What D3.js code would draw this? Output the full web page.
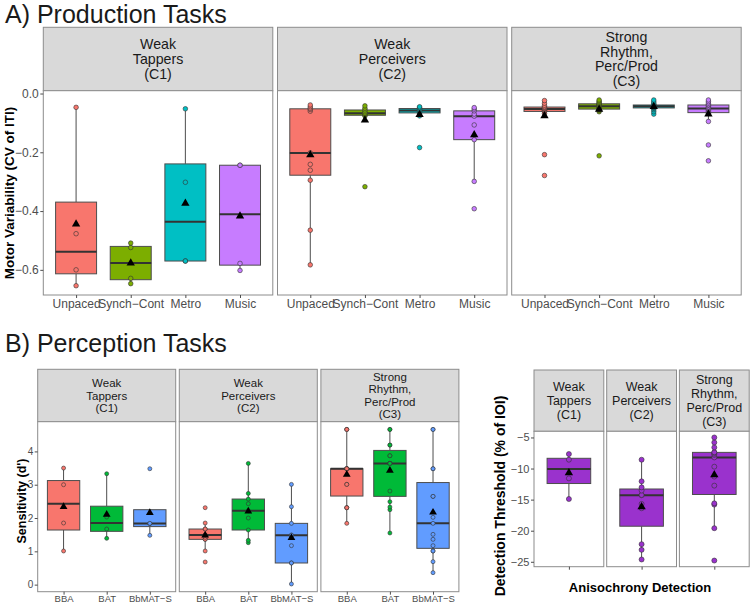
<!DOCTYPE html>
<html><head><meta charset="utf-8">
<script src="https://cdn.jsdelivr.net/npm/d3@7"></script>
<style>body{margin:0;background:#fff} svg{display:block} text{font-family:"Liberation Sans",Arial,sans-serif}</style>
</head><body><svg id="chart" width="750" height="605"></svg>
<script>
// ---------- data ----------
const prodTasks = ["Unpaced", "Synch\u2212Cont", "Metro", "Music"];
const percTasks = ["BBA", "BAT", "BbMAT\u2212S"];
const anisoTasks = ["Anisochrony"];
const clusterStrips = [["Weak", "Tappers", "(C1)"], ["Weak", "Perceivers", "(C2)"], ["Strong", "Rhythm,", "Perc/Prod", "(C3)"]];
const prodTicks = [0, -0.2, -0.4, -0.6];
const percTicks = [0, 1, 2, 3, 4];
const anisoTicks = [-5, -10, -15, -20, -25];
const prodColors = ["#F8766D", "#7CAE00", "#00BFC4", "#C77CFF"];
const percColors = ["#F8766D", "#00BA38", "#619CFF"];
const anisoColors = ["#9A32CD"];

// Production: motor variability, per cluster, one array per task
const prodC1 = [
  [-0.047, -0.477, -0.600, -0.654],
  [-0.509, -0.524, -0.629, -0.647],
  [-0.052, -0.302, -0.570, -0.570],
  [-0.244, -0.244, -0.578, -0.602]
];
const prodC2 = [
  [-0.039, -0.045, -0.050, -0.054, -0.060, -0.202, -0.241, -0.261, -0.295, -0.465, -0.583],
  [-0.042, -0.050, -0.056, -0.062, -0.067, -0.070, -0.074, -0.076, -0.317],
  [-0.045, -0.048, -0.051, -0.055, -0.058, -0.062, -0.066, -0.076, -0.184],
  [-0.048, -0.053, -0.059, -0.070, -0.077, -0.107, -0.157, -0.299, -0.392]
];
const prodC3 = [
  [-0.024, -0.033, -0.040, -0.045, -0.047, -0.050, -0.052, -0.053, -0.056, -0.058, -0.060, -0.062, -0.068, -0.208, -0.279],
  [-0.022, -0.026, -0.030, -0.034, -0.036, -0.039, -0.041, -0.043, -0.047, -0.050, -0.052, -0.054, -0.058, -0.062, -0.212],
  [-0.022, -0.028, -0.033, -0.038, -0.040, -0.041, -0.042, -0.043, -0.044, -0.046, -0.048, -0.050, -0.055, -0.062, -0.070],
  [-0.022, -0.028, -0.033, -0.038, -0.040, -0.045, -0.048, -0.051, -0.054, -0.058, -0.062, -0.068, -0.095, -0.175, -0.229]
];
// Perception: sensitivity d'
const percC1 = [
  [1.01, 1.85, 3.00, 3.50],
  [1.39, 1.67, 2.03, 3.33],
  [1.48, 1.83, 1.84, 3.48]
];
const percC2 = [
  [0.68, 1.01, 1.36, 1.36, 1.42, 1.49, 1.49, 1.67, 1.67, 1.85, 2.31],
  [1.26, 1.33, 1.64, 2.00, 2.22, 2.43, 2.57, 2.74, 3.64],
  [0.02, 0.65, 0.65, 1.17, 1.48, 1.49, 1.84, 2.34, 3.01]
];
const percC3 = [
  [1.84, 2.31, 2.31, 2.31, 3.01, 3.01, 3.48, 3.48, 3.48, 3.48, 3.48, 3.48, 4.66, 4.66, 4.66],
  [1.55, 2.25, 2.33, 2.49, 2.81, 3.64, 3.64, 3.64, 3.64, 3.87, 3.87, 4.19, 4.19, 4.66, 4.66],
  [0.36, 0.69, 1.01, 1.01, 1.17, 1.36, 1.51, 1.84, 2.02, 2.65, 2.65, 3.48, 3.48, 4.66, 4.66]
];
// Anisochrony detection threshold (% of IOI)
const anisoC1 = [-7.67, -8.58, -11.58, -14.9];
const anisoC2 = [-8.58, -12.06, -13.03, -13.55, -14.25, -14.3, -15.69, -16.39, -22.17, -23.08, -24.63];
const anisoC3 = [-5.0, -5.8, -6.6, -7.4, -7.4, -7.6, -7.8, -8.21, -9.7, -11.3, -12.75, -15.6, -15.8, -19.6, -24.8];

// ---------- drawing ----------
const svg = d3.select("#chart");
const BORDER = "#8c8c8c";

function facetBox(o) {
  const all = o.groups.flat(2);
  const ext = d3.extent(all);
  const pad = (ext[1] - ext[0]) * 0.05;
  const y = d3.scaleLinear().domain([ext[0] - pad, ext[1] + pad]).range([o.plotBottom, o.stripBottom]);
  const tri = d3.symbol().type(d3.symbolTriangle).size(o.triSize);

  o.groups.forEach((panel, pi) => {
    const x0 = o.left + pi * (o.width + o.gap), x1 = x0 + o.width;
    const g = svg.append("g");
    g.append("rect").attr("x", x0).attr("y", o.stripTop).attr("width", o.width)
      .attr("height", o.stripBottom - o.stripTop).attr("fill", "#d9d9d9").attr("stroke", BORDER).attr("stroke-width", 1);
    const lines = clusterStrips[pi];
    const sc = (o.stripTop + o.stripBottom) / 2;
    lines.forEach((t, li) => {
      g.append("text").attr("x", (x0 + x1) / 2)
        .attr("y", sc + (li - (lines.length - 1) / 2) * o.stripLine)
        .attr("dy", "0.35em").attr("text-anchor", "middle")
        .attr("font-size", o.stripFont).attr("fill", "#1a1a1a").text(t);
    });
    g.append("rect").attr("x", x0).attr("y", o.stripBottom).attr("width", o.width)
      .attr("height", o.plotBottom - o.stripBottom).attr("fill", "#fff");

    const x = d3.scalePoint().domain(o.cats).range([x0, x1]).padding(0.6);
    const bw = x.step() * 0.75;
    panel.forEach((vals, ci) => {
      const s = vals.slice().sort(d3.ascending);
      const q1 = d3.quantileSorted(s, 0.25), med = d3.quantileSorted(s, 0.5), q3 = d3.quantileSorted(s, 0.75);
      const iqr = q3 - q1;
      const lo = d3.min(s.filter(v => v >= q1 - 1.5 * iqr));
      const hi = d3.max(s.filter(v => v <= q3 + 1.5 * iqr));
      const cx = x(o.cats[ci]);
      const col = o.colors[ci];
      g.append("line").attr("x1", cx).attr("x2", cx).attr("y1", y(hi)).attr("y2", y(q3))
        .attr("stroke", "#4d4d4d").attr("stroke-width", 1);
      g.append("line").attr("x1", cx).attr("x2", cx).attr("y1", y(q1)).attr("y2", y(lo))
        .attr("stroke", "#4d4d4d").attr("stroke-width", 1);
      g.append("rect").attr("x", cx - bw / 2).attr("width", bw).attr("y", y(q3))
        .attr("height", Math.max(0.5, y(q1) - y(q3))).attr("fill", col)
        .attr("stroke", "#4d4d4d").attr("stroke-width", 1);
      g.append("line").attr("x1", cx - bw / 2).attr("x2", cx + bw / 2).attr("y1", y(med)).attr("y2", y(med))
        .attr("stroke", "#333").attr("stroke-width", 2);
      g.selectAll(null).data(s).enter().append("circle")
        .attr("cx", cx).attr("cy", d => y(d)).attr("r", o.pointR)
        .attr("fill", col).attr("stroke", "#333").attr("stroke-width", 0.6);
      g.append("path").attr("d", tri).attr("transform", `translate(${cx},${y(d3.mean(s))})`).attr("fill", "#000");
    });
    g.append("rect").attr("x", x0).attr("y", o.stripBottom).attr("width", o.width)
      .attr("height", o.plotBottom - o.stripBottom).attr("fill", "none").attr("stroke", BORDER).attr("stroke-width", 1);

    const xa = g.append("g").attr("transform", `translate(0,${o.plotBottom})`)
      .call(d3.axisBottom(x).tickSize(3).tickPadding(o.xPad).tickFormat(o.showX ? (d => d) : (() => "")));
    xa.select(".domain").remove();
    xa.selectAll("line").attr("stroke", "#4d4d4d");
    xa.selectAll("text").attr("font-size", o.xFont).attr("fill", "#4d4d4d").attr("font-family", "Liberation Sans, Arial, sans-serif");
  });

  const ya = svg.append("g").attr("transform", `translate(${o.left},0)`)
    .call(d3.axisLeft(y).tickValues(o.ticks).tickFormat(o.fmt).tickSize(3).tickPadding(o.yPad));
  ya.select(".domain").remove();
  ya.selectAll("line").attr("stroke", "#4d4d4d");
  ya.selectAll("text").attr("font-size", o.yFont).attr("fill", "#4d4d4d").attr("font-family", "Liberation Sans, Arial, sans-serif");

  svg.append("text").attr("transform", `translate(${o.yTitleX},${o.yTitleY}) rotate(-90)`)
    .attr("text-anchor", "middle").attr("font-weight", "bold").attr("font-size", o.yTitleFont)
    .attr("fill", "#000").text(o.yTitle);
}

// section titles
svg.append("text").attr("x", 5).attr("y", 23.2).attr("font-family", "Roboto, Noto Sans, sans-serif")
  .attr("font-size", 25).attr("fill", "#1a1a1a").text("A) Production Tasks");
svg.append("text").attr("x", 5).attr("y", 352).attr("font-family", "Roboto, Noto Sans, sans-serif")
  .attr("font-size", 25).attr("fill", "#1a1a1a").text("B) Perception Tasks");

facetBox({
  groups: [prodC1, prodC2, prodC3], cats: prodTasks, colors: prodColors,
  left: 43.3, width: 229.5, gap: 4.7, stripTop: 27.3, stripBottom: 90.7, plotBottom: 295,
  stripFont: 14.2, stripLine: 14.6, xFont: 12, xPad: 1.5, showX: true,
  ticks: prodTicks, fmt: d3.format(".1f"), yFont: 12, yPad: 1.5,
  yTitle: "Motor Variability (CV of ITI)", yTitleX: 14, yTitleY: 193, yTitleFont: 13.5,
  pointR: 2.3, triSize: 30
});

facetBox({
  groups: [percC1, percC2, percC3], cats: percTasks, colors: percColors,
  left: 37.7, width: 138, gap: 3.6, stripTop: 369.3, stripBottom: 421.7, plotBottom: 591.7,
  stripFont: 11.5, stripLine: 12.6, xFont: 9.5, xPad: 1, showX: true,
  ticks: percTicks, fmt: d3.format("d"), yFont: 10, yPad: 1.5,
  yTitle: "Sensitivity (d')", yTitleX: 25.5, yTitleY: 501, yTitleFont: 12.5,
  pointR: 2, triSize: 26
});

facetBox({
  groups: [[anisoC1], [anisoC2], [anisoC3]], cats: anisoTasks, colors: anisoColors,
  left: 534, width: 69.8, gap: 2.9, stripTop: 370, stripBottom: 431.3, plotBottom: 566.7,
  stripFont: 12.5, stripLine: 14.2, xFont: 10, xPad: 1, showX: false,
  ticks: anisoTicks, fmt: d3.format("d"), yFont: 11, yPad: 1.5,
  yTitle: "Detection Threshold (% of IOI)", yTitleX: 505, yTitleY: 496, yTitleFont: 14,
  pointR: 2.5, triSize: 30
});

svg.append("text").attr("x", 640).attr("y", 592).attr("text-anchor", "middle")
  .attr("font-weight", "bold").attr("font-size", 13).attr("fill", "#000").text("Anisochrony Detection");
</script>
</body></html>
